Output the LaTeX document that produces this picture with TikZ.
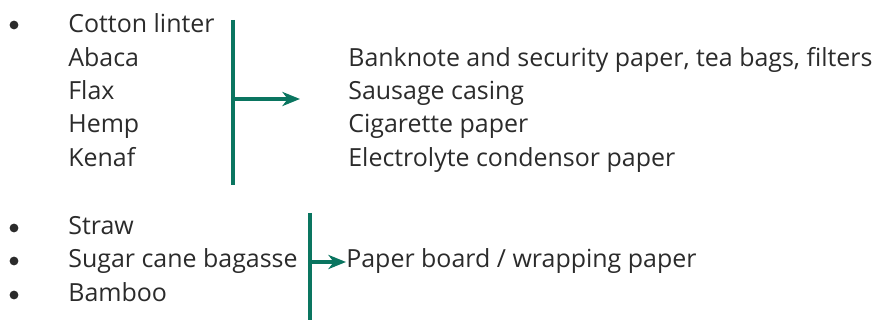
\documentclass[tikz,border=0pt]{standalone}
\usepackage{fontspec}
\setmainfont{Open Sans}
\usetikzlibrary{arrows.meta}
\definecolor{fibregreen}{HTML}{0A7560}
\definecolor{textgrey}{HTML}{2B2B2B}

\begin{document}
\begin{tikzpicture}[x=0.02cm, y=-0.02cm,
    item/.style={anchor=base west, inner sep=0pt, text=textgrey, font=\fontsize{14.2}{17}\selectfont},
    dot/.style={circle, fill=textgrey, inner sep=0pt, minimum size=5pt},
    bracket/.style={draw=fibregreen, line width=1.8pt},
    feed/.style={bracket, -{Stealth[length=10pt, width=8pt, inset=3pt]}}]
    \useasboundingbox (0,0) rectangle (875,320);

    % Specialty fibres
    \node[dot] (Cotton) at (14,25) {};
    \node[item] (F1) at (68,33) {Cotton linter};
    \node[item] (F2) at (68,67) {Abaca};
    \node[item] (F3) at (68,100) {Flax};
    \node[item] (F4) at (68,133) {Hemp};
    \node[item] (F5) at (68,167) {Kenaf};

    % Their uses
    \node[item] (U2) at (348,67) {Banknote and security paper, tea bags, filters};
    \node[item] (U3) at (348,100) {Sausage casing};
    \node[item] (U4) at (348,133) {Cigarette paper};
    \node[item] (U5) at (348,167) {Electrolyte condensor paper};

    % Bracket and arrow
    \coordinate (TopA) at (233,20);
    \coordinate (BotA) at (233,185);
    \coordinate (MidA) at (233,99);
    \coordinate (TipA) at (300,99);
    \draw[bracket] (TopA) -- (BotA);
    \draw[feed] (MidA) -- (TipA);

    % Agricultural residues
    \foreach \y/\name/\txt in {235/R1/Straw, 268/R2/Sugar cane bagasse, 302/R3/Bamboo}
    {
        \node[dot] (B\name) at (14,\y-7) {};
        \node[item] (\name) at (68,\y) {\txt};
    }
    \node[item] (Board) at (346,268) {Paper board / wrapping paper};

    % Bracket and arrow
    \coordinate (TopB) at (310,213);
    \coordinate (BotB) at (310,320);
    \coordinate (MidB) at (310,262);
    \draw[bracket] (TopB) -- (BotB);
    \draw[feed] (MidB) -- (Board.west |- MidB);

\end{tikzpicture}
\end{document}
